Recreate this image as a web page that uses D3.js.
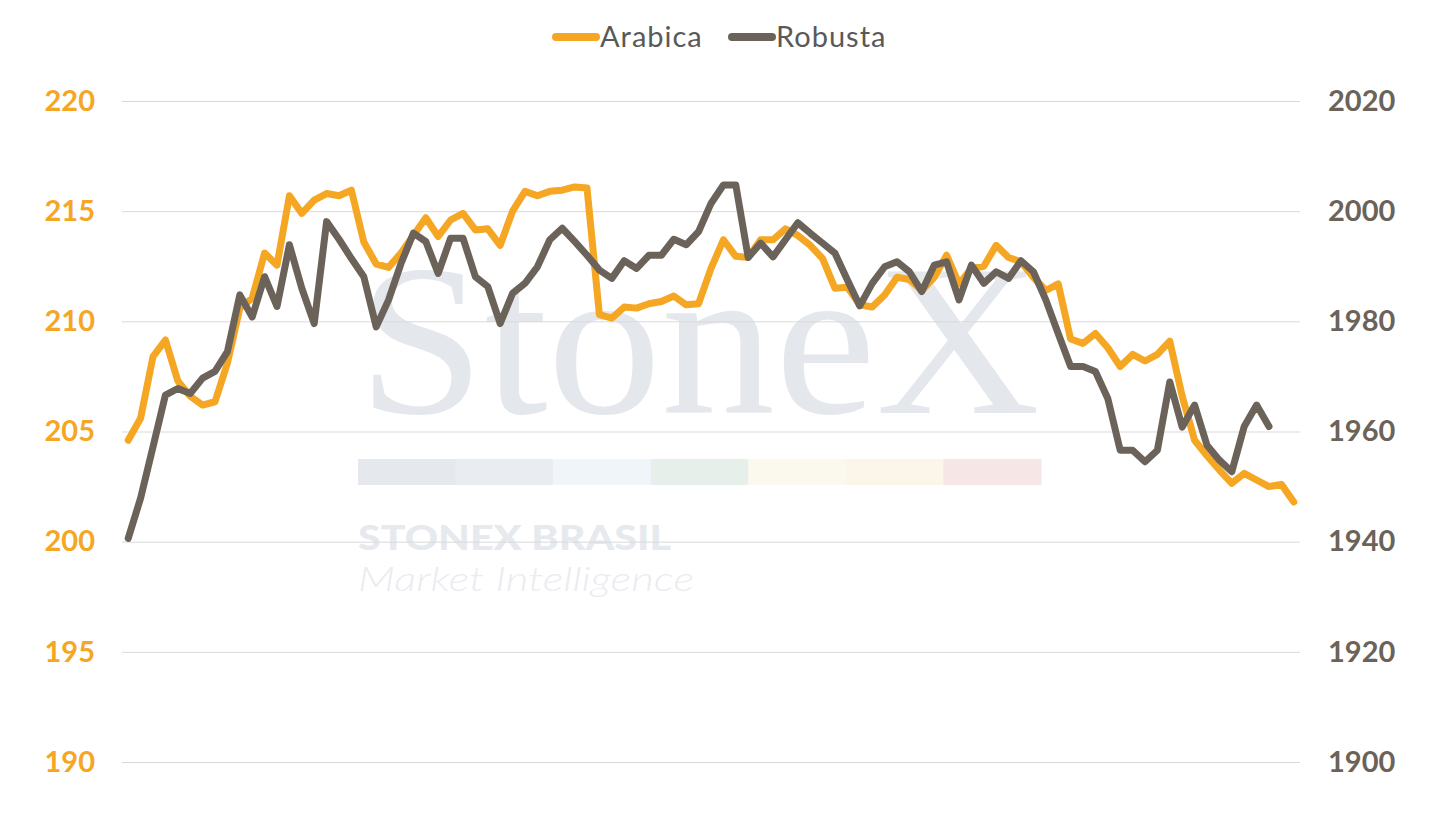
<!DOCTYPE html>
<html>
<head>
<meta charset="utf-8">
<script src="https://cdn.jsdelivr.net/npm/d3@7"></script>
<style>
  body { margin: 0; background: #fff; }
  svg { display: block; font-family: Lato, "Open Sans", sans-serif; }
</style>
</head>
<body>
<div id="chart"></div>
<script>
// values (weekly, no x labels shown)
var arabica = [
  204.6, 205.6, 208.4, 209.15, 207.3, 206.6, 206.2, 206.35, 208.1, 210.6,
  211.05, 213.1, 212.55, 215.7, 214.9, 215.5, 215.8, 215.7, 215.95, 213.6,
  212.6, 212.45, 213.1, 213.9, 214.7, 213.85, 214.6, 214.9, 214.15, 214.2,
  213.45, 215.0, 215.9, 215.7, 215.9, 215.95, 216.1, 216.05, 210.3, 210.15,
  210.65, 210.6, 210.8, 210.9, 211.15, 210.75, 210.8, 212.4, 213.7, 212.95,
  212.9, 213.7, 213.7, 214.2, 213.9, 213.45, 212.85, 211.5, 211.55, 210.75,
  210.65, 211.2, 212.0, 211.9, 211.4, 212.0, 213.0, 211.7, 212.4, 212.5,
  213.45, 212.9, 212.7, 212.0, 211.4, 211.7, 209.2, 209.0, 209.45, 208.8,
  207.95, 208.5, 208.2, 208.5, 209.1, 206.6, 204.6, 203.9, 203.25, 202.65,
  203.1, 202.8, 202.5, 202.6, 201.8
];

var robusta = [
  1940.6, 1947.9, 1957.2, 1966.6, 1967.8, 1966.9, 1969.7, 1970.9, 1974.5, 1984.8,
  1980.8, 1988.1, 1982.7, 1993.9, 1986.0, 1979.6, 1998.1, 1994.9, 1991.4, 1988.1,
  1979.0, 1983.9, 1990.5, 1996.0, 1994.5, 1988.7, 1995.1, 1995.1, 1988.1, 1986.3,
  1979.6, 1985.1, 1986.9, 1989.9, 1994.8, 1996.9, 1994.5, 1992.0, 1989.3, 1987.8,
  1991.0, 1989.6, 1992.0, 1992.0, 1994.9, 1993.9, 1996.3, 2001.4, 2004.75, 2004.75,
  1991.6, 1994.2, 1991.7, 1994.8, 1997.9, 1996.0, 1994.2, 1992.35, 1987.5, 1982.8,
  1986.9, 1989.9, 1990.8, 1989.0, 1985.4, 1990.2, 1990.8, 1983.9, 1990.2, 1986.9,
  1989.0, 1987.8, 1991.0, 1989.0, 1983.9, 1977.8, 1971.8, 1971.8, 1970.9, 1966.0,
  1956.6, 1956.6, 1954.5, 1956.6, 1969.0, 1960.8, 1964.8, 1957.5, 1954.8, 1952.7,
  1960.9, 1964.8, 1960.9, null, null
];

var categories = arabica.map(function (d, i) { return i; });
var leftTicks = [190, 195, 200, 205, 210, 215, 220];
var rightTicks = [1900, 1920, 1940, 1960, 1980, 2000, 2020];
var seriesNames = ["Arabica", "Robusta"];

var orange = "#f5a623";
var brown = "#6b6359";

// plot box (note: "top" is reserved on window, so use plot* names)
var W = 1437, H = 827;
var plotLeft = 122, plotRight = 1300, plotTop = 101, plotBottom = 762;

var svg = d3.select("#chart").append("svg")
  .attr("width", W)
  .attr("height", H);

svg.append("rect").attr("width", W).attr("height", H).attr("fill", "#fff");

// watermark
var wm = svg.append("g");
wm.append("text")
  .attr("x", 358).attr("y", 413)
  .attr("textLength", 682).attr("lengthAdjust", "spacingAndGlyphs")
  .style("font-family", "'Liberation Serif', 'DejaVu Serif', serif")
  .style("font-size", "216px")
  .attr("fill", "#e4e7ec")
  .text("StoneX");

var barColors = ["#e5e8ec", "#e9edf1", "#f0f5f9", "#e6efea", "#fbf9ee", "#fcf5e9", "#f6e6e6"];
var bx = d3.scaleBand().domain(d3.range(barColors.length)).range([358, 1041]);
wm.selectAll("rect.band").data(barColors).enter().append("rect")
  .attr("x", function (d, i) { return bx(i); })
  .attr("y", 459)
  .attr("width", bx.bandwidth() + 0.5)
  .attr("height", 26)
  .attr("fill", function (d) { return d; });

wm.append("text")
  .attr("x", 358).attr("y", 550)
  .attr("textLength", 313).attr("lengthAdjust", "spacingAndGlyphs")
  .style("font-size", "35px").style("font-weight", "900")
  .attr("fill", "#e6e9ee")
  .text("STONEX BRASIL");

wm.append("text")
  .attr("x", 358).attr("y", 591)
  .attr("textLength", 336).attr("lengthAdjust", "spacingAndGlyphs")
  .style("font-size", "33px").style("font-style", "italic").style("font-weight", "300")
  .attr("fill", "#eaecf0")
  .text("Market Intelligence");

// scales
var x = d3.scalePoint()
  .domain(categories)
  .range([plotLeft, plotRight])
  .padding(0.5);

var yLeft = d3.scaleLinear()
  .domain([190, 220])
  .range([plotBottom, plotTop]);

var yRight = d3.scaleLinear()
  .domain([1900, 2020])
  .range([plotBottom, plotTop]);

// gridlines
svg.append("g")
  .attr("transform", "translate(" + plotLeft + ",0)")
  .call(d3.axisRight(yLeft).tickValues(leftTicks).tickSize(plotRight - plotLeft).tickFormat(""))
  .call(function (g) { g.select(".domain").remove(); })
  .selectAll("line")
  .attr("stroke", "#d9d9d9")
  .attr("stroke-width", 1);

// left axis
svg.append("g")
  .attr("transform", "translate(" + plotLeft + ",0)")
  .call(d3.axisLeft(yLeft).tickValues(leftTicks).tickSize(0).tickPadding(27))
  .call(function (g) { g.select(".domain").remove(); })
  .selectAll("text")
  .style("font-family", "Lato, sans-serif")
  .style("font-size", "29px")
  .style("font-weight", "bold")
  .attr("fill", orange);

// right axis
svg.append("g")
  .attr("transform", "translate(" + plotRight + ",0)")
  .call(d3.axisRight(yRight).tickValues(rightTicks).tickSize(0).tickPadding(28).tickFormat(d3.format("d")))
  .call(function (g) { g.select(".domain").remove(); })
  .selectAll("text")
  .style("font-family", "Lato, sans-serif")
  .style("font-size", "29px")
  .style("font-weight", "bold")
  .attr("fill", brown);

// lines
var lineA = d3.line()
  .x(function (d, i) { return x(categories[i]); })
  .y(function (d) { return yLeft(d); });

var lineR = d3.line()
  .defined(function (d) { return d != null; })
  .x(function (d, i) { return x(categories[i]); })
  .y(function (d) { return yRight(d); });

svg.append("path")
  .datum(arabica)
  .attr("d", lineA)
  .attr("fill", "none")
  .attr("stroke", orange)
  .attr("stroke-width", 7)
  .attr("stroke-linejoin", "round")
  .attr("stroke-linecap", "round");

svg.append("path")
  .datum(robusta)
  .attr("d", lineR)
  .attr("fill", "none")
  .attr("stroke", brown)
  .attr("stroke-width", 7)
  .attr("stroke-linejoin", "round")
  .attr("stroke-linecap", "round");

// legend
var legend = svg.append("g");
var legendItems = [
  { name: seriesNames[0], color: orange, x: 556 },
  { name: seriesNames[1], color: brown, x: 732 }
];
legendItems.forEach(function (d) {
  legend.append("line")
    .attr("x1", d.x).attr("x2", d.x + 40)
    .attr("y1", 37).attr("y2", 37)
    .attr("stroke", d.color)
    .attr("stroke-width", 8)
    .attr("stroke-linecap", "round");
  legend.append("text")
    .attr("x", d.x + 44).attr("y", 47)
    .style("font-size", "29px")
    .style("letter-spacing", "1px")
    .attr("fill", "#595959")
    .text(d.name);
});
</script>
</body>
</html>
